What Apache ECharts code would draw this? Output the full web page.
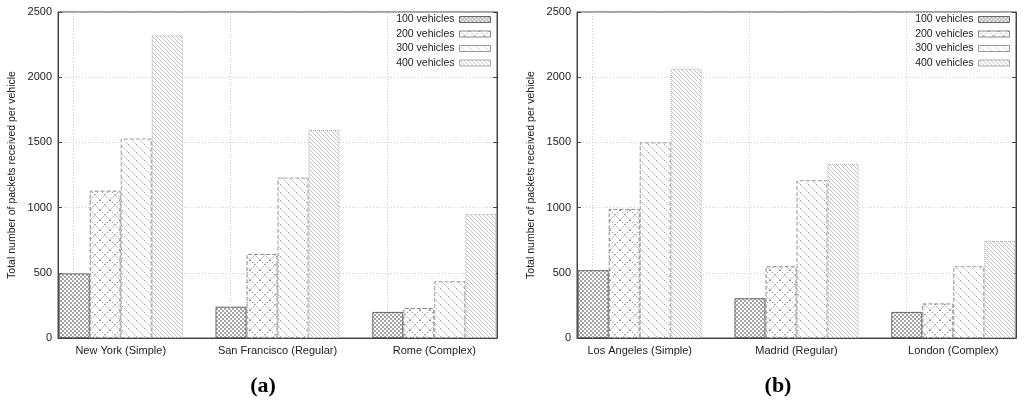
<!DOCTYPE html>
<html>
<head>
<meta charset="utf-8">
<script src="https://cdn.jsdelivr.net/npm/echarts@6/dist/echarts.min.js"></script>
<style>
html,body{margin:0;padding:0;background:#fff;}
#main{width:1024px;height:408px;}
</style>
</head>
<body>
<div id="main"></div>
<script>
// ---- data ----
const categoriesA = ['New York (Simple)', 'San Francisco (Regular)', 'Rome (Complex)'];
const categoriesB = ['Los Angeles (Simple)', 'Madrid (Regular)', 'London (Complex)'];
const seriesNames = ['100 vehicles', '200 vehicles', '300 vehicles', '400 vehicles'];
const v100A = [495, 240, 200];
const v200A = [1130, 645, 230];
const v300A = [1530, 1230, 435];
const v400A = [2320, 1595, 950];
const v100B = [520, 305, 200];
const v200B = [990, 550, 265];
const v300B = [1500, 1210, 550];
const v400B = [2065, 1335, 745];
const yTicks = [0, 500, 1000, 1500, 2000, 2500];
const captions = ['(a)', '(b)'];

// ---- patterns ----
function makeTile(size, draw) {
  const c = document.createElement('canvas');
  c.width = size; c.height = size;
  const g = c.getContext('2d');
  g.fillStyle = '#fff';
  g.fillRect(0, 0, size, size);
  draw(g, size);
  return c;
}
const p100 = makeTile(4, (g) => {
  g.fillStyle = '#a4a4a4';
  g.fillRect(0, 0, 2, 2);
  g.fillRect(2, 2, 2, 2);
});
const p200 = makeTile(10, (g, s) => {
  g.strokeStyle = '#909090'; g.lineWidth = 1; g.setLineDash([1.5, 1.5]);
  g.beginPath(); g.moveTo(0, 0); g.lineTo(s, s); g.stroke();
  g.beginPath(); g.moveTo(s, 0); g.lineTo(0, s); g.stroke();
});
const p300 = makeTile(8, (g, s) => {
  g.strokeStyle = '#a0a0a0'; g.lineWidth = 1; g.setLineDash([1.5, 1.5]);
  [-s, 0, s].forEach(k => { g.beginPath(); g.moveTo(k, 0); g.lineTo(k + s, s); g.stroke(); });
});
const p400 = makeTile(4, (g, s) => {
  g.strokeStyle = '#c4c4c4'; g.lineWidth = 1;
  [-s, 0, s].forEach(k => { g.beginPath(); g.moveTo(k, 0); g.lineTo(k + s, s); g.stroke(); });
});
const styles = [
  { color: { image: p100, repeat: 'repeat' }, borderColor: '#666', borderType: 'solid' },
  { color: { image: p200, repeat: 'repeat' }, borderColor: '#888', borderType: 'dashed' },
  { color: { image: p300, repeat: 'repeat' }, borderColor: '#999', borderType: 'dashed' },
  { color: { image: p400, repeat: 'repeat' }, borderColor: '#aaa', borderType: 'dotted' }
];

const chart = echarts.init(document.getElementById('main'), null, { renderer: 'canvas' });
const FONT = 'Liberation Sans, Arial, sans-serif';
const grids = [
  { left: 58, top: 12, width: 439, height: 326 },
  { left: 577, top: 12, width: 439, height: 326 }
];
const cats = [categoriesA, categoriesB];
const values = [[v100A, v200A, v300A, v400A], [v100B, v200B, v300B, v400B]];

const xAxes = [], yAxes = [], series = [], legends = [], titles = [];
for (let gi = 0; gi < 2; gi++) {
  const c = cats[gi];
  xAxes.push({
    type: 'value', gridIndex: gi, min: -0.4, max: 2.4, interval: 0.2,
    axisLine: { show: true, onZero: false, lineStyle: { color: '#444' } },
    axisTick: { show: false }, splitLine: { show: false },
    axisLabel: {
      color: '#222', fontSize: 11, fontFamily: FONT, margin: 7,
      showMinLabel: true, showMaxLabel: true,
      formatter: (v) => { const i = Math.round(v); return (Math.abs(v - i) < 1e-6 && c[i]) ? c[i] : ''; }
    }
  });
  yAxes.push({
    type: 'value', gridIndex: gi, min: yTicks[0], max: yTicks[yTicks.length - 1], interval: 500,
    name: 'Total number of packets received per vehicle', nameLocation: 'middle', nameGap: 40,
    nameTextStyle: { color: '#222', fontSize: 10.5, fontFamily: FONT },
    axisLine: { show: true, onZero: false, lineStyle: { color: '#444' } },
    axisTick: { show: true, inside: true, length: 4, lineStyle: { color: '#444' } },
    axisLabel: { color: '#222', fontSize: 11, fontFamily: FONT, margin: 6, formatter: (v) => String(v) },
    splitLine: { show: true, lineStyle: { color: '#cfcfcf', type: [1, 2] } }
  });
  yAxes.push({
    type: 'value', gridIndex: gi, position: 'right', min: yTicks[0], max: yTicks[yTicks.length - 1], interval: 500,
    axisLine: { show: true, onZero: false, lineStyle: { color: '#444' } },
    axisTick: { show: true, inside: true, length: 4, lineStyle: { color: '#444' } },
    axisLabel: { show: false }, splitLine: { show: false }
  });
  // vertical dotted grid lines at the first bar of each cluster
  series.push({
    type: 'line', name: 'grid' + gi, xAxisIndex: gi, yAxisIndex: gi * 2, data: [], silent: true, z: 1,
    markLine: {
      silent: true, symbol: 'none', label: { show: false }, animation: false,
      lineStyle: { color: '#cfcfcf', type: [1, 2], width: 1 },
      data: c.map((_, i) => ({ xAxis: i - 0.3 }))
    }
  });
  for (let j = 0; j < 4; j++) {
    series.push({
      type: 'bar', name: seriesNames[j], xAxisIndex: gi, yAxisIndex: gi * 2,
      barWidth: 31, barGap: '0%',
      data: values[gi][j].map((v, i) => [i, v]),
      itemStyle: { color: styles[j].color, borderColor: styles[j].borderColor, borderWidth: 1, borderType: styles[j].borderType },
      emphasis: { disabled: true }, z: 3
    });
  }
  legends.push({
    orient: 'vertical', right: gi === 0 ? 1024 - 491 : 1024 - 1010, top: 14,
    align: 'right', icon: 'rect', itemWidth: 31, itemHeight: 6, itemGap: 3.5, padding: 0,
    itemStyle: { borderWidth: 1 },
    textStyle: { color: '#222', fontSize: 10.5, fontFamily: FONT, padding: [0, 0, 0, 0] },
    selectedMode: false, data: seriesNames
  });
  titles.push({
    text: captions[gi], left: gi === 0 ? 258 : 773, top: 370, textAlign: 'center',
    textStyle: { fontFamily: 'Liberation Serif, Times New Roman, serif', fontWeight: 'bold', fontSize: 22, color: '#000' }
  });
}

chart.setOption({
  animation: false,
  backgroundColor: '#fff',
  title: titles,
  legend: legends,
  grid: grids.map(g => Object.assign({ show: true, borderColor: '#444', borderWidth: 1, backgroundColor: 'transparent' }, g)),
  xAxis: xAxes,
  yAxis: yAxes,
  series: series
});
</script>
</body>
</html>
